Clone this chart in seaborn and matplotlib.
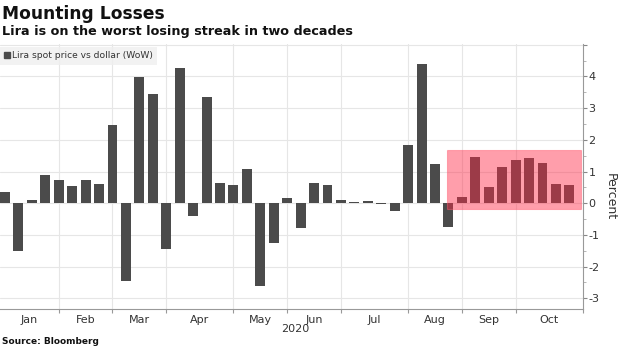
import numpy as np
import pandas as pd
import matplotlib
matplotlib.use("Agg")
import matplotlib.pyplot as plt
from matplotlib.patches import Rectangle
from matplotlib.lines import Line2D
import seaborn as sns

# ---- data ----
week_dates = pd.date_range("2020-01-03", periods=43, freq="7D")
week_labels = [d.strftime("%Y-%m-%d") for d in week_dates]
wow_change = [0.37, -1.50, 0.09, 0.90, 0.74, 0.54, 0.73, 0.61, 2.47, -2.46,
              3.97, 3.44, -1.46, 4.28, -0.39, 3.36, 0.63, 0.57, 1.07, -2.62,
              -1.24, 0.16, -0.79, 0.65, 0.57, 0.11, 0.03, 0.06, -0.01, -0.24,
              1.85, 4.40, 1.24, -0.74, 0.19, 1.47, 0.52, 1.15, 1.35, 1.44,
              1.27, 0.61, 0.58]
month_names = ["Jan", "Feb", "Mar", "Apr", "May", "Jun", "Jul", "Aug", "Sep", "Oct"]
month_starts = pd.date_range("2020-01-01", periods=11, freq="MS")
y_ticks = [-3, -2, -1, 0, 1, 2, 3, 4]
series_name = "Lira spot price vs dollar (WoW)"
streak_start = 34  # first week of the losing streak highlighted

df = pd.DataFrame({"week": week_labels, "change": wow_change})

# ---- style ----
sns.set_style("white")
plt.rcParams["font.family"] = ["DejaVu Sans"]

fig = plt.figure(figsize=(6.2, 3.48), dpi=100)
ax = fig.add_axes([0.0, 0.111, 0.940, 0.763])

bar_color = "#4b4b4b"
sns.barplot(data=df, x="week", y="change", order=week_labels, color=bar_color,
            saturation=1, width=0.74, linewidth=0, ax=ax, zorder=3)

# month boundaries: last weekly bar on/before first of month
all_weeks = pd.date_range("2019-12-27", periods=46, freq="7D")
bounds = []
for ms in month_starts:
    idx = int((all_weeks <= ms).sum()) - 2  # index relative to 2020-01-03
    bounds.append(idx)

xleft, xright = -0.37, bounds[-1]
ax.set_xlim(xleft, xright)
ax.set_ylim(-3.35, 5.03)

# grid
for b in bounds[1:-1]:
    ax.axvline(b, color="#e6e6e6", lw=0.8, zorder=0)
for y in y_ticks + [5]:
    ax.axhline(y, color="#e6e6e6", lw=0.8, zorder=0)

# month labels between boundaries
lab_pos = []
for i in range(len(month_names)):
    lo = max(bounds[i], xleft)
    hi = bounds[i + 1]
    lab_pos.append((lo + hi) / 2)
ax.set_xticks(lab_pos)
ax.set_xticklabels(month_names, fontsize=8, color="#333333")
ax.set_xticks(bounds[1:], minor=True)
ax.tick_params(axis="x", which="major", length=0, pad=4)
ax.tick_params(axis="x", which="minor", length=3, color="#999999", width=0.8, bottom=True)
ax.set_xlabel("")

# y axis on right
ax.yaxis.tick_right()
ax.set_yticks(y_ticks + [5])
ax.set_yticklabels([str(v) for v in y_ticks] + [""], fontsize=8, color="#333333")
ax.set_yticks(np.arange(-3, 5.01, 0.5), minor=True)
ax.tick_params(axis="y", which="major", length=3, color="#888888", width=0.8, pad=1, right=True, left=False)
ax.tick_params(axis="y", which="minor", length=2, color="#aaaaaa", width=0.6, right=True, left=False)
ax.set_ylabel("")

for s in ["top", "left"]:
    ax.spines[s].set_visible(False)
for s in ["right", "bottom"]:
    ax.spines[s].set_color("#999999")
    ax.spines[s].set_linewidth(0.8)

# highlight box
ax.add_patch(Rectangle((streak_start - 1.1, -0.19), xright - 0.1 - (streak_start - 1.1), 1.86,
                       facecolor="#ff2846", alpha=0.45, edgecolor="#ff5a70", lw=0.8, zorder=4))

# legend
handle = Line2D([0], [0], marker="s", color="none", markerfacecolor=bar_color,
                markeredgecolor=bar_color, markersize=5)
leg = ax.legend([handle], [series_name], loc="upper left", bbox_to_anchor=(0.0, 0.99),
                frameon=True, fontsize=6.6, handlelength=0.6, handletextpad=0.2,
                borderpad=0.5, borderaxespad=0.0, fancybox=False)
leg.get_frame().set_facecolor("#efefef")
leg.get_frame().set_edgecolor("none")
for t in leg.get_texts():
    t.set_color("#333333")

# texts
fig.text(0.004, 1 - 19 / 348, "Mounting Losses", fontsize=12.3, fontweight="bold",
         va="baseline", ha="left", color="#111111")
fig.text(0.004, 1 - 34.5 / 348, "Lira is on the worst losing streak in two decades", fontsize=9.2,
         fontweight="bold", va="baseline", ha="left", color="#111111")
fig.text(0.477, 1 - 329 / 348, "2020", fontsize=8, ha="center", va="center", color="#333333")
fig.text(0.004, 1 - 342 / 348, "Source: Bloomberg", fontsize=6.5, fontweight="bold", ha="left",
         va="center", color="#111111")
fig.text(610 / 620, 1 - 197 / 348, "Percent", fontsize=9, rotation=270, ha="center", va="center",
         color="#333333")

fig.savefig("out.png", dpi=100)
